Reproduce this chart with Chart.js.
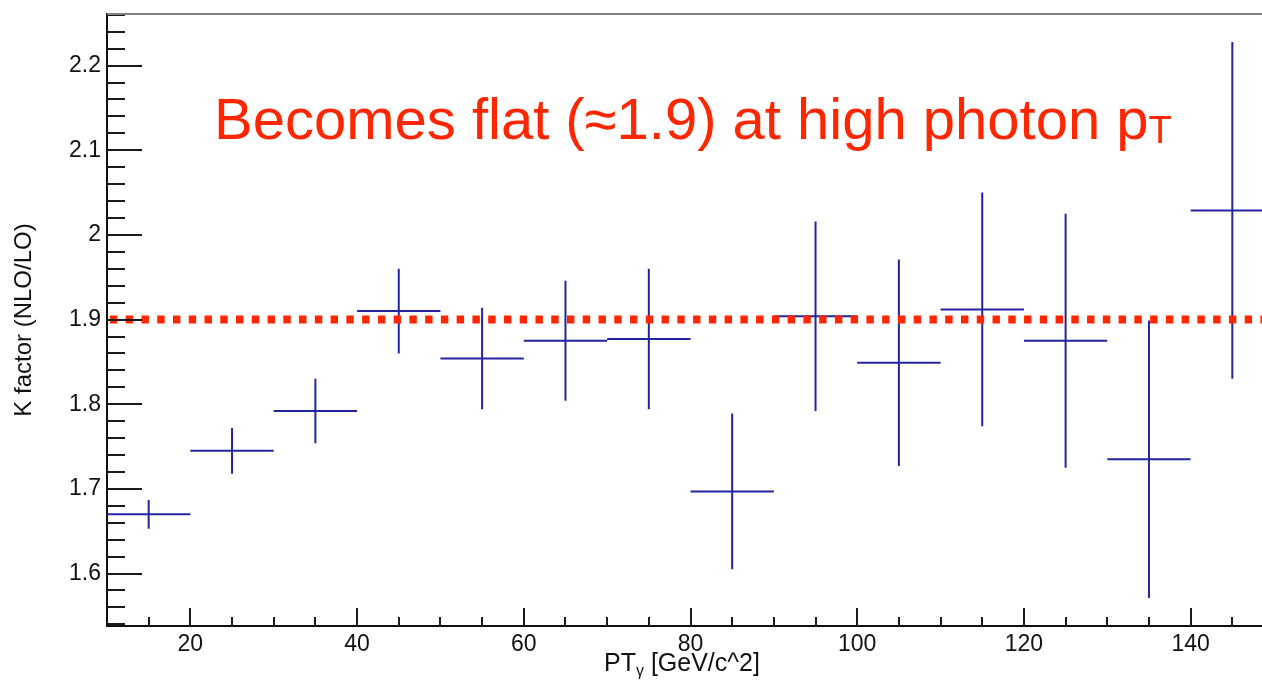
<!DOCTYPE html>
<html>
<head>
<meta charset="utf-8">
<script src="https://cdn.jsdelivr.net/npm/chart.js@4.4.1/dist/chart.umd.min.js"></script>
<style>
  html, body { margin: 0; padding: 0; background: #fff; overflow: hidden; }
  #wrap { position: relative; width: 1262px; height: 680px; overflow: hidden; }
  #kchart { position: absolute; left: 0; top: 0; }
  .note {
    position: absolute; left: 214px; top: 90px; white-space: nowrap;
    font: 58px/1 "Liberation Sans", Arial, sans-serif; color: #ff2600;
  }
  .note span { font-size: 38px; vertical-align: -4px; }
  .xtitle {
    position: absolute; left: 604px; top: 650px; white-space: nowrap;
    font: 25px/1 "Liberation Sans", Arial, sans-serif; color: #111;
  }
  .xtitle span { font-size: 16px; vertical-align: -5px; }
</style>
</head>
<body>
<div id="wrap">
  <canvas id="kchart" width="1276" height="680"></canvas>
  <div class="note">Becomes flat (≈1.9) at high photon p<span>T</span></div>
  <div class="xtitle">PT<span>γ</span> [GeV/c^2]</div>
</div>
<script>
// photon pT bins (GeV/c) and the NLO/LO ratio in each bin
const ptBinLow  = [10, 20, 30, 40, 50, 60, 70, 80, 90, 100, 110, 120, 130, 140];
const ptBinHigh = [20, 30, 40, 50, 60, 70, 80, 90, 100, 110, 120, 130, 140, 150];
const kFactor   = [1.670, 1.745, 1.792, 1.910, 1.854, 1.875, 1.877, 1.697, 1.904, 1.849, 1.912, 1.875, 1.735, 2.029];
const kError    = [0.017, 0.027, 0.038, 0.050, 0.060, 0.071, 0.083, 0.092, 0.112, 0.122, 0.138, 0.150, 0.164, 0.199];

const flatLevel = 1.9;

const xTickLabels = [20, 40, 60, 80, 100, 120, 140];
const yTickLabels = [1.6, 1.7, 1.8, 1.9, 2.0, 2.1, 2.2];

const ERR_COLOR = '#2424a2';
const RED = '#ff2600';
const FONT = "'Liberation Sans', Arial, sans-serif";

// horizontal bin-width bars, split by null points
const binBars = [];
// vertical error bars at bin centres
const errBars = [];
ptBinLow.forEach((lo, i) => {
  const hi = ptBinHigh[i];
  const mid = (lo + hi) / 2;
  binBars.push({ x: lo, y: kFactor[i] }, { x: hi, y: kFactor[i] }, { x: hi, y: null });
  errBars.push({ x: mid, y: kFactor[i] - kError[i] }, { x: mid, y: kFactor[i] + kError[i] }, { x: mid, y: null });
});

const flatLine = [{ x: 10, y: flatLevel }, { x: 150, y: flatLevel }];

// minor ticks, ROOT style
const xMinor = [];
for (let v = 15; v < 150; v += 5) if (v % 20 !== 0) xMinor.push(v);
const yMinor = [];
for (let k = 77; k <= 113; k++) if (k % 5 !== 0) yMinor.push(k / 50);

// ticks drawn inward from the axes, plus the top frame line
const rootTicks = {
  id: 'rootTicks',
  afterDraw(chart) {
    const { ctx, chartArea, scales: { x, y } } = chart;
    const left = chartArea.left, bottom = chartArea.bottom;
    ctx.save();
    ctx.strokeStyle = '#1a1a1a';
    ctx.lineWidth = 2;
    ctx.beginPath();
    yTickLabels.forEach(v => {
      const py = Math.round(y.getPixelForValue(v));
      ctx.moveTo(left, py); ctx.lineTo(left + 35, py);
    });
    yMinor.forEach(v => {
      const py = Math.round(y.getPixelForValue(v));
      ctx.moveTo(left, py); ctx.lineTo(left + 18, py);
    });
    xTickLabels.forEach(v => {
      const px = Math.round(x.getPixelForValue(v));
      ctx.moveTo(px, bottom); ctx.lineTo(px, bottom - 18);
    });
    xMinor.forEach(v => {
      const px = Math.round(x.getPixelForValue(v));
      ctx.moveTo(px, bottom); ctx.lineTo(px, bottom - 9);
    });
    ctx.stroke();

    ctx.strokeStyle = '#808080';
    ctx.beginPath();
    ctx.moveTo(left, chartArea.top);
    ctx.lineTo(chartArea.right, chartArea.top);
    ctx.stroke();
    ctx.restore();
  }
};

new Chart(document.getElementById('kchart'), {
  type: 'line',
  data: {
    datasets: [
      {
        label: 'flat',
        data: flatLine,
        borderColor: RED,
        borderWidth: 8,
        borderDash: [7.4, 8.36],
        borderDashOffset: 12.8,
        borderCapStyle: 'butt',
        pointRadius: 0
      },
      {
        label: 'bins',
        data: binBars,
        borderColor: ERR_COLOR,
        borderWidth: 2,
        pointRadius: 0,
        spanGaps: false
      },
      {
        label: 'errors',
        data: errBars,
        borderColor: ERR_COLOR,
        borderWidth: 2,
        pointRadius: 0,
        spanGaps: false
      }
    ]
  },
  options: {
    responsive: false,
    animation: false,
    devicePixelRatio: 1,
    layout: { padding: { left: 10, top: 14, right: 2, bottom: 0 } },
    plugins: { legend: { display: false }, tooltip: { enabled: false } },
    elements: { line: { tension: 0 } },
    scales: {
      x: {
        type: 'linear',
        min: 10,
        max: 150,
        afterBuildTicks: s => { s.ticks = xTickLabels.map(v => ({ value: v })); },
        afterFit: s => { s.height = 54; s.paddingLeft = 0; s.paddingRight = 0; },
        grid: { display: false, drawTicks: false },
        border: { color: '#111', width: 2 },
        ticks: { padding: 5, color: '#111', font: { family: FONT, size: 23 }, maxRotation: 0 }
      },
      y: {
        type: 'linear',
        min: 1.538,
        max: 2.261,
        afterBuildTicks: s => { s.ticks = yTickLabels.map(v => ({ value: v })); },
        afterFit: s => { s.width = 97; s.paddingTop = 0; s.paddingBottom = 0; },
        grid: { display: false, drawTicks: false },
        border: { color: '#111', width: 2 },
        ticks: {
          padding: 6,
          color: '#111',
          font: { family: FONT, size: 23 },
          callback: v => String(+v.toFixed(1))
        },
        title: {
          display: true,
          text: 'K factor (NLO/LO)',
          color: '#111',
          font: { family: FONT, size: 24 },
          padding: { top: 0, bottom: 0 }
        }
      }
    }
  },
  plugins: [rootTicks]
});
</script>
</body>
</html>
